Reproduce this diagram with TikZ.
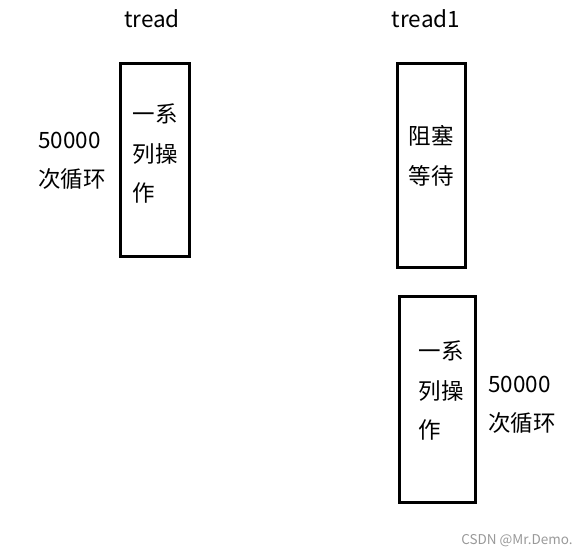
\documentclass[tikz,border=0pt]{standalone}
\usepackage{fontspec}
\setmainfont{Noto Sans CJK SC}
\begin{document}
\begin{tikzpicture}[x=1pt,y=1pt,thread/.style={draw=black,line width=3pt,inner sep=0pt},txt/.style={align=left,inner sep=0pt,font=\fontsize{22.5}{39.5}\selectfont},wmark/.style={font=\fontsize{13.5}{16}\selectfont,text=black!40}]
\useasboundingbox (0,0) rectangle (586,-556);

% headings
\node[txt] (H) at (152,-19) {tread};
\node[txt] (H1) at (426,-19) {tread1};

% thread tread
\node[thread,minimum width=69,minimum height=193] (A) at (155,-160) {};
\node[txt] (Aop) at (155,-154) {一系\\列操\\作};
\node[txt] (Aloop) at (72,-161) {50000\\次循环};

% thread tread1
\node[thread,minimum width=68,minimum height=204] (B) at (431.5,-165.5) {};
\node[txt] (Bwait) at (431,-156) {阻塞\\等待};
\node[thread,minimum width=76,minimum height=206] (C) at (437.5,-399.5) {};
\node[txt] (Cop) at (441,-391) {一系\\列操\\作};
\node[txt] (Cloop) at (522,-405) {50000\\次循环};

\node[wmark] (W) at (517,-541) {CSDN @Mr.Demo.};
\end{tikzpicture}
\end{document}
